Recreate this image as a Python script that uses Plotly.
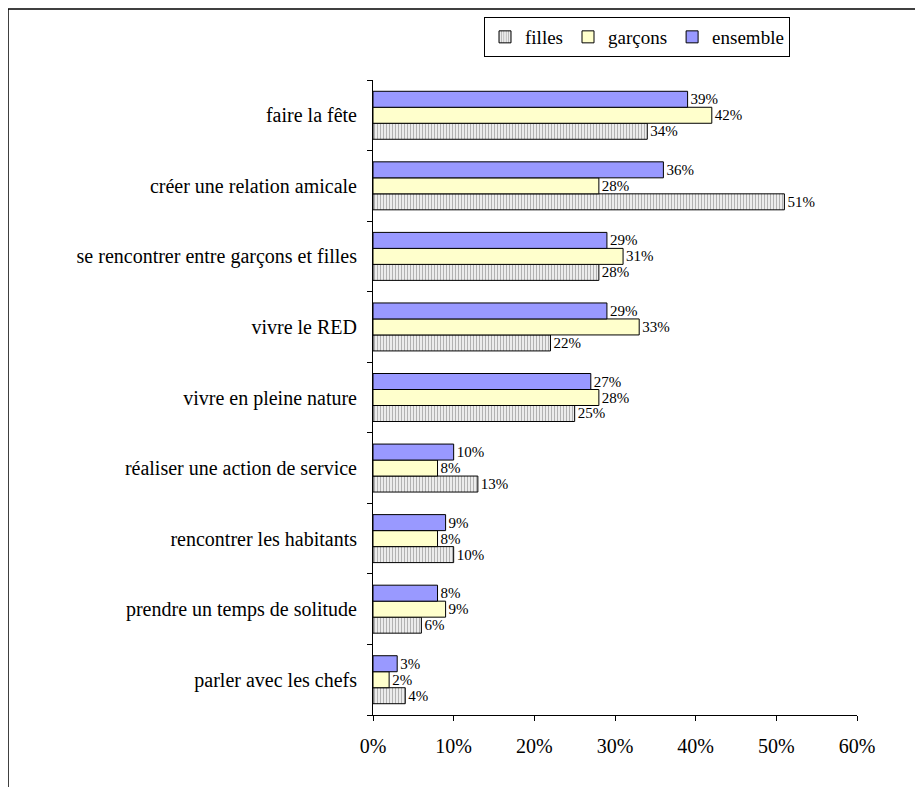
import plotly.graph_objects as go

categories = [
    "faire la fête",
    "créer une relation amicale",
    "se rencontrer entre garçons et filles",
    "vivre le RED",
    "vivre en pleine nature",
    "réaliser une action de service",
    "rencontrer les habitants",
    "prendre un temps de solitude",
    "parler avec les chefs",
]
filles = [0.34, 0.51, 0.28, 0.22, 0.25, 0.13, 0.10, 0.06, 0.04]
garcons = [0.42, 0.28, 0.31, 0.33, 0.28, 0.08, 0.08, 0.09, 0.02]
ensemble = [0.39, 0.36, 0.29, 0.29, 0.27, 0.10, 0.09, 0.08, 0.03]
x_ticks = [0, 0.1, 0.2, 0.3, 0.4, 0.5, 0.6]

FONT = "Liberation Serif, Times New Roman, serif"
OFF = 8  # page offset
W, H = 923, 787
L, R, T, B = 373 - OFF, 66 + OFF, 80 - OFF, 72 + OFF
pw, ph = W - L - R, H - T - B

fig = go.Figure()
common = dict(orientation="h", textposition="outside", cliponaxis=False,
              constraintext="none", texttemplate="%{x:.0%}",
              textfont=dict(family=FONT, size=15, color="black"))
fig.add_trace(go.Bar(name="filles", y=categories, x=filles,
                     marker=dict(color="white", line=dict(color="black", width=1),
                                 pattern=dict(shape="|", fgcolor="#666666", bgcolor="white",
                                              size=3, solidity=0.5)),
                     **common))
fig.add_trace(go.Bar(name="garçons", y=categories, x=garcons,
                     marker=dict(color="#FFFFCC", line=dict(color="black", width=1)),
                     **common))
fig.add_trace(go.Bar(name="ensemble", y=categories, x=ensemble,
                     marker=dict(color="#9999FF", line=dict(color="black", width=1)),
                     **common))

def px_x(p):
    return (p - OFF - L) / pw

def px_y(p):
    return (H - B - (p - OFF)) / ph

fig.update_layout(
    width=W, height=H,
    margin=dict(l=L, r=R, t=T, b=B, autoexpand=False),
    paper_bgcolor="white", plot_bgcolor="white",
    barmode="group", bargap=0.32, bargroupgap=0,
    font=dict(family=FONT, size=20, color="black"),
    legend=dict(orientation="h", x=px_x(484), y=px_y(17), xanchor="left", yanchor="top",
                bordercolor="black", borderwidth=1, font=dict(family=FONT, size=19),
                itemwidth=30, traceorder="normal", tracegroupgap=0),
    xaxis=dict(range=[0, 0.6], tickvals=x_ticks, tickformat=".0%", showgrid=False,
               zeroline=False, showline=True, linecolor="black", linewidth=1,
               ticks="outside", ticklen=5, tickcolor="black", ticklabelstandoff=8,
               tickfont=dict(family=FONT, size=20)),
    yaxis=dict(categoryorder="array", categoryarray=categories[::-1], showgrid=False,
               showline=True, linecolor="black", linewidth=1, ticks="outside",
               tickson="boundaries", ticklen=5, tickcolor="black", ticklabelstandoff=11,
               tickfont=dict(family=FONT, size=20)),
    showlegend=True,
    shapes=[
        dict(type="line", xref="paper", yref="paper", x0=px_x(8), x1=px_x(W + 20),
             y0=px_y(9), y1=px_y(9), line=dict(color="black", width=1.5)),
        dict(type="line", xref="paper", yref="paper", x0=px_x(8), x1=px_x(8),
             y0=px_y(9), y1=px_y(H + 20), line=dict(color="black", width=1.5)),
    ],
)

fig.write_html("out.html")
